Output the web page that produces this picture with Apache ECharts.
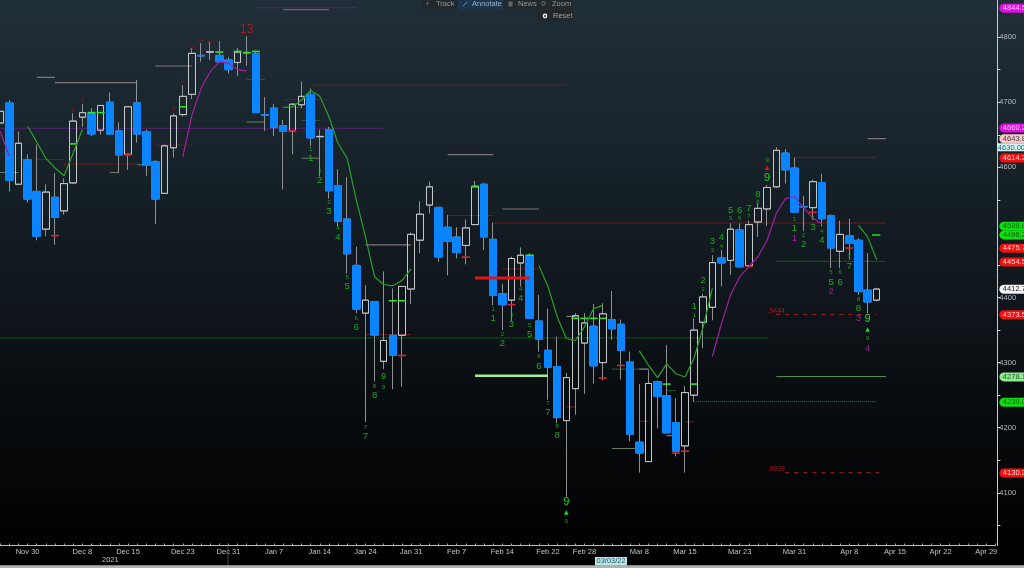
<!DOCTYPE html>
<html>
<head>
<meta charset="utf-8">
<style>html,body{margin:0;padding:0;background:#000;overflow:hidden}#c{width:1024px;height:568px}</style>
<script src="https://cdn.jsdelivr.net/npm/echarts@6/dist/echarts.min.js"></script>
</head>
<body>
<div id="c"></div>
<script>
const categories = ['Nov 24','Nov 26','Nov 29','Nov 30','Dec 1','Dec 2','Dec 3','Dec 6','Dec 7','Dec 8','Dec 9','Dec 10','Dec 13','Dec 14','Dec 15','Dec 16','Dec 17','Dec 20','Dec 21','Dec 22','Dec 23','Dec 27','Dec 28','Dec 29','Dec 30','Dec 31','Jan 3','Jan 4','Jan 5','Jan 6','Jan 7','Jan 10','Jan 11','Jan 12','Jan 13','Jan 14','Jan 18','Jan 19','Jan 20','Jan 21','Jan 24','Jan 25','Jan 26','Jan 27','Jan 28','Jan 31','Feb 1','Feb 2','Feb 3','Feb 4','Feb 7','Feb 8','Feb 9','Feb 10','Feb 11','Feb 14','Feb 15','Feb 16','Feb 17','Feb 18','Feb 22','Feb 23','Feb 24','Feb 25','Feb 28','Mar 1','Mar 2','Mar 3','Mar 4','Mar 7','Mar 8','Mar 9','Mar 10','Mar 11','Mar 14','Mar 15','Mar 16','Mar 17','Mar 18','Mar 21','Mar 22','Mar 23','Mar 24','Mar 25','Mar 28','Mar 29','Mar 30','Mar 31','Apr 1','Apr 4','Apr 5','Apr 6','Apr 7','Apr 8','Apr 11','Apr 12','Apr 13','Apr 14','Apr 15','Apr 18','Apr 19','Apr 20','Apr 21','Apr 22','Apr 25','Apr 26','Apr 27','Apr 28','Apr 29','May 2'];
const tickLabels = ['Nov 30','Dec 8','Dec 15','Dec 23','Dec 31','Jan 7','Jan 14','Jan 24','Jan 31','Feb 7','Feb 14','Feb 22','Feb 28','Mar 8','Mar 15','Mar 23','Mar 31','Apr 8','Apr 15','Apr 22','Apr 29'];
const yMajorTicks = [4100,4200,4300,4400,4600,4700,4800];
const yAllTicks = [4050,4100,4150,4200,4250,4300,4350,4400,4450,4550,4600,4650,4700,4750,4800];

const opens  = [4668,4699,4574,4612,4563,4505,4554,4533,4576,4677,4683,4657,4700,4656,4620,4699,4655,4609,4560,4630,4681,4712,4772,4777,4772,4765,4761,4776,4775,4681,4691,4664,4656,4696,4712,4647,4658,4572,4520.6,4449.4,4376,4394,4302,4342,4342,4413,4488,4542,4538.5,4508,4493,4480,4512,4574,4489.4,4406,4396,4453,4464,4364,4319,4294,4211,4260,4330,4356,4300,4366,4359,4301,4178,4148,4271,4249.3,4208,4172,4250,4362,4385,4461,4457,4504,4449,4516,4536,4570,4622,4599,4540,4538,4576.4,4526,4471,4495,4488,4411.6,4396];
const closes = [4686,4580,4637,4551,4494,4562,4523,4575,4671,4684,4651,4695,4651,4619,4693,4651,4603,4551,4633,4679,4709,4775,4771,4777.5,4762,4750,4777,4776.5,4684,4680,4661,4655,4697,4709,4645,4647.5,4564,4517,4467,4382,4396,4342,4334,4311,4417,4497,4528,4570,4462,4486,4469,4507,4571,4493,4403,4389,4460,4465,4368,4336,4293,4215.5,4277,4372,4361,4295,4375,4352,4319,4190,4161,4268,4248,4192,4164,4254,4350,4401,4453.6,4453,4505,4447,4512,4537,4569,4626,4596,4531,4539,4578,4521,4476,4497,4483,4409,4393,4413];
const lows   = [4660,4563,4574,4546,4488,4494,4481,4527,4575,4662,4648,4650,4651,4591,4596,4638,4587,4513,4560,4615,4678,4705,4762,4765,4762,4744,4740,4756,4684,4656,4648,4566,4620,4691,4633,4586,4552,4509,4437,4376,4209,4271,4290,4259,4263,4390,4468,4529,4455,4434,4460,4451,4512,4473,4388,4350,4363,4417,4368,4317,4243,4207,4094,4220,4252,4268,4273,4335,4274,4179,4131,4148,4199,4192,4156,4131,4240,4322,4365,4417,4435,4447,4449,4493,4510,4568,4575,4531,4502,4519,4509,4445,4445,4458,4404,4376,4394];
const highs  = [4690,4703,4655,4620,4635,4574,4591,4583,4683,4697,4691,4695,4715,4669,4694,4734,4658,4611,4635,4683,4726,4783,4791,4793,4794,4769,4783,4801,4779,4708,4697,4673,4698,4732,4721,4658,4662,4597,4585,4478,4419,4394,4440,4414,4418,4500,4548,4578,4538.5,4527,4508,4520,4579,4576,4515,4421,4463,4477,4468,4404,4383,4340,4284,4376,4376,4390,4391,4410,4366,4317,4267,4289,4273,4327,4245,4264,4368,4406,4465,4473,4514,4514,4518,4545,4573,4631,4628,4615,4556,4581,4590,4528,4518,4521,4491,4468,4415];

const purpleLine1 = [[-1,4655],[0,4617]];
const purpleLine2 = [[19,4616],[20,4680],[21,4721],[22,4747],[23,4762],[24,4760],[25,4750],[26,4748]];
const purpleLine3 = [[77,4309],[78,4360],[79,4404],[80,4432],[81,4447],[82,4463],[83,4488],[84,4529],[85,4552],[86,4555],[87,4538],[88,4522],[89,4513]];
const greenLine1 = [[2,4663],[3,4639],[4,4614],[5,4599],[6,4587],[7,4622],[8,4658]];
const greenLine2 = [[30,4692],[31,4693],[32,4703],[33,4718],[34,4709],[35,4678],[36,4637],[37,4614],[38,4550],[39,4493.5],[40,4432],[41,4420],[42,4418],[43,4426],[44,4444]];
const greenLine3 = [[58,4449],[59,4417],[60,4371],[61,4337],[62,4334],[63,4355],[64,4383],[65,4388]];
const greenLine4 = [[69,4318],[70,4296],[71,4277],[72,4298],[73,4283],[74,4278],[75,4307],[76,4355],[77,4414]];
const greenLine5 = [[93,4511],[94,4493.5],[95,4458]];

// level segments: [from index, to index, price]
const greySegs = [[3,5,4738],[5,14,4730],[16,20,4755.6],[30,35,4842],[48,53,4619.4],[54,58,4536],[39,44,4481],[61,62,4371],[69,70,4290],[94,96,4644],[72,73,4188]];
const greyGreenSegs = [[-1,1,4592],[11,12,4592],[14,15,4604],[26,28,4669.6],[32,34,4614],[66,69,4168]];
const dimGreenSegs = [[26,28,4735],[32,34,4672],[30,32,4692],[66,70,4290],[72,73,4257]];
const dimRedSegs = [[3,6,4612],[6,14,4605],[16,20,4634],[30,35,4704],[33,61,4726],[48,53,4526],[53,96,4514.5],[54,58,4444],[39,44,4343],[61,62,4232],[69,70,4210],[74,75,4209],[86,95,4615.3]];
const dimPurpleSegs = [[-1,41,4660]];
const magentaDimSegs = [[27,38,4845]];
const dashedRedSegs = [[84,95,4374],[85,95.3,4131]];
const dottedGreenSegs = [[-1,83,4338],[84,96,4455.6],[75,95,4240]];
const thinGreenSegs = [[84,96,4278.5]];
const brightGreenSegs = [[94.5,95.4,4496]];
const thickRedSegs = [[51,57,4430]];
const thickPaleGreenSegs = [[51,59,4280]];

const greenTicks = [[9,4684],[10,4684],[7,4636],[19,4693],[23,4777],[25,4778],[26,4776],[27,4778],[51,4570],[57,4465],[42,4395],[43,4395],[62,4368],[63,4368],[64,4368],[65,4368],[72,4267],[75,4267]];
const redTicks = [[5,4495],[13,4619],[31,4656],[50,4462],[55,4389],[43,4311],[67,4295.6],[65,4276.4],[73,4161],[74,4164],[81,4448],[88,4531],[92,4476]];

// TD counts: [index, price, text]
const smallGreenCounts = [[33,4628,'1'],[34,4594,'2'],[35,4546,'3'],[36,4506,'4'],[37,4430.5,'5'],[38,4368,'6'],[39,4201,'7'],[40,4264,'8'],[41,4262,'9'],[53,4382,'1'],[54,4344,'2'],[55,4373,'3'],[56,4413,'4'],[57,4357,'5'],[58,4309,'6'],[59,4237.5,'7'],[60,4202,'8'],[61,4056,'9'],[75,4373,'1'],[76,4413,'2'],[77,4473,'3'],[78,4479,'4'],[79,4522,'5'],[80,4521,'6'],[81,4524,'7'],[82,4546,'8'],[83,4611,'9'],[86,4520,'1'],[87,4495,'2'],[88,4522,'3'],[89,4502,'4'],[90,4438,'5'],[91,4438,'6'],[92,4463,'7'],[93,4397,'8'],[94,4337,'9']];
const bigGreenCounts = [[33,4614,'1'],[34,4580,'2'],[35,4533,'3'],[36,4492,'4'],[37,4417,'5'],[38,4354,'6'],[39,4186,'7'],[40,4250,'8'],[41,4279,'9'],[53,4368,'1'],[54,4330,'2'],[55,4359,'3'],[56,4398,'4'],[57,4343,'5'],[58,4295,'6'],[59,4223,'7'],[60,4188,'8'],[75,4387,'1'],[76,4426,'2'],[77,4486,'3'],[78,4492.5,'4'],[79,4534.5,'5'],[80,4533.4,'6'],[81,4537,'7'],[82,4559,'8'],[86,4506,'1'],[87,4481,'2'],[88,4508,'3'],[89,4488,'4'],[90,4424,'5'],[91,4424,'6'],[92,4448,'7'],[93,4383,'8']];
const brightNines = [[61,4085.5,'9'],[83,4583,'9'],[94,4366.5,'9']];
const purpleCounts = [[86,4491,'1'],[90,4409,'2'],[93,4368,'3'],[94,4322,'4']];
const redCounts = [[6,4602,'7'],[7,4688,'8'],[8,4703,'9'],[18,4689,'8'],[19,4731.6,'9'],[20,4783,'10'],[21,4796.6,'11'],[22,4794,'12']];
const bigRedCounts = [[26,4811,'13']];
const greenArrows = [[61,4069.6],[94,4351]];
const redArrows = [[83,4599.5]];
const fibLabels = [[84,4379,'.9444'],[84,4136,'.9939']];

const priceTags = ['4844.5','4660.2','4643.8','4630.00','4614.2','4509.6','4496.2','4475.7','4454.5','4412.7','4373.5','4278.1','4239.0','4130.3'];
const priceTagFills = ['#e010e0','#e010e0','#f4c6c6','#d4f4f2','#f01010','#10dd10','#10dd10','#f01010','#f01010','#f4f4f4','#f01010','#90e890','#10dd10','#f01010'];
const priceTagText = ['#f8c0f8','#f8c0f8','#444444','#1d6a70','#ffd0d0','#0a5a0a','#0a5a0a','#ffd0d0','#ffd0d0','#222222','#ffd0d0','#2a5a2a','#0a5a0a','#ffd0d0'];

const FONT = '"Liberation Sans", Arial, sans-serif';
const offset = 1; // categories start one step left of index 0
const ohlc = opens.map((o,i)=>[o,closes[i],lows[i],highs[i]]);
const blank = ['-','-','-','-'];
const blueBodies = opens.map((o,i)=> closes[i]<o ? [o,closes[i],closes[i],o] : blank);
const hollowBodies = opens.map((o,i)=> closes[i]>=o ? [o,closes[i],o,closes[i]] : blank);

function polyline(data,color,width){
  return {type:'line',xAxisIndex:1,data,symbol:'none',smooth:false,silent:true,z:6,
    lineStyle:{color,width},animation:false};
}
function segments(data,color,width,dash,z){
  return {type:'custom',xAxisIndex:1,data,z:z||1,silent:true,clip:true,encode:{x:[0,1],y:2},
    renderItem:(p,api)=>{
      const a=api.coord([api.value(0),api.value(2)]), b=api.coord([api.value(1),api.value(2)]);
      return {type:'line',shape:{x1:a[0],y1:a[1],x2:b[0],y2:b[1]},
        style:{stroke:color,lineWidth:width,lineDash:dash||null}};
    }};
}
function counts(data,color,size){
  return {type:'custom',xAxisIndex:1,data,z:7,silent:true,clip:false,encode:{x:0,y:1},
    renderItem:(p,api)=>{
      const a=api.coord([api.value(0),api.value(1)]);
      return {type:'text',style:{text:String(data[p.dataIndex][2]),x:a[0],y:a[1],fill:color,
        font:size+'px '+FONT,textAlign:'center',textVerticalAlign:'middle'}};
    }};
}
function ticks(data,color){
  return {type:'scatter',xAxisIndex:1,data,symbol:'rect',symbolSize:[8,1.6],z:5,silent:true,
    itemStyle:{color,opacity:1}};
}
function arrows(data,color){
  return {type:'scatter',xAxisIndex:1,data,symbol:'triangle',symbolSize:[4.5,4.5],z:7,silent:true,
    itemStyle:{color,opacity:1}};
}
const tagSeries = {type:'custom',xAxisIndex:1,data:priceTags.map((t,i)=>[108,parseFloat(t)]),z:9,silent:true,clip:false,
  encode:{x:0,y:1},
  renderItem:(p,api)=>{
    const i=p.dataIndex, a=api.coord([api.value(0),api.value(1)]);
    const plain=priceTags[i].length>6;
    return {type:'group',children:[
      {type:'rect',shape:{x:a[0]+(plain?2:4),y:a[1]-4.5,width:40,height:plain?8:9,r:plain?0:[4.5,0,0,4.5]},
        style:{fill:priceTagFills[i]}},
      {type:'text',style:{text:priceTags[i],x:a[0]+(plain?2.5:7.5),y:a[1],fill:priceTagText[i],
        font:'7.5px '+FONT,textVerticalAlign:'middle'}}
    ]};
  }};

function toolbarText(t,x,y,fill){return {type:'text',style:{text:t,x,y,fill:fill||'#9aa4a8',font:'7.5px '+FONT,textVerticalAlign:'middle'},z:20};}
function toolbarRect(x,y,w,h,fill){return {type:'rect',shape:{x,y,width:w,height:h},style:{fill},z:19};}

const chart = echarts.init(document.getElementById('c'),null,{renderer:'canvas',width:1024,height:568});
chart.setOption({
  animation:false,
  backgroundColor:{type:'linear',x:0,y:0,x2:0,y2:1,colorStops:[
    {offset:0,color:'#202e38'},{offset:0.2,color:'#1a262e'},{offset:0.5,color:'#10171d'},{offset:0.75,color:'#070a0d'},{offset:0.96,color:'#000000'},{offset:1,color:'#000000'}]},
  grid:{left:0.2,top:0,width:995.17,height:545.5,containLabel:false,outerBoundsMode:'none'},
  xAxis:[
    {type:'category',data:categories,boundaryGap:false,
     axisLine:{lineStyle:{color:'#b8b8b8',width:1}},
     axisTick:{show:true,interval:0,inside:true,length:2,alignWithLabel:true,lineStyle:{color:'#a8a8a8'}},
     axisLabel:{interval:0,margin:2,color:'#c4c4c4',fontSize:7.5,fontFamily:FONT,hideOverlap:false,
       formatter:v=>tickLabels.includes(v)?v:''},
     splitLine:{show:false}},
    {type:'value',min:-offset,max:108,show:false,splitLine:{show:false}}
  ],
  yAxis:{type:'value',position:'right',offset:2,min:4019.1,max:4857,
    axisLine:{show:true,onZero:false,lineStyle:{color:'#c8ccd0',width:1}},
    axisTick:{show:true,length:3,customValues:yAllTicks,lineStyle:{color:'#d8d8d8',width:1}},
    axisLabel:{show:true,margin:2,color:'#b8bcc0',fontSize:7.5,fontFamily:FONT,customValues:yMajorTicks,
       formatter:v=>String(v)},
    splitLine:{show:false}},
  series:[
    segments(dimRedSegs,'#6a1c20',1),
    segments(dimPurpleSegs,'#5c1f78',1),
    segments(magentaDimSegs,'#5c1f78',1),
    segments(dimGreenSegs,'#245f2a',1),
    segments(greyGreenSegs,'#6e7f6a',1),
    segments(dottedGreenSegs,'#1f8a2a',1,[1,1]),
    segments(thinGreenSegs,'#5a9a50',1),
    segments(greySegs,'#7f7478',1.2),
    {type:'candlestick',data:ohlc,barWidth:7,z:3,silent:true,
      itemStyle:{color:'transparent',color0:'transparent',borderColor:'#8f9193',borderColor0:'#8f9193',borderWidth:1}},
    {type:'candlestick',data:hollowBodies,barWidth:7,z:4,silent:true,
      itemStyle:{color:'transparent',color0:'transparent',borderColor:'#c6c8ca',borderColor0:'#c6c8ca',borderWidth:1}},
    {type:'candlestick',data:blueBodies,barWidth:8,z:4,silent:true,
      itemStyle:{color:'#0a84ff',color0:'#0a84ff',borderColor:'#0a84ff',borderColor0:'#0a84ff',borderWidth:1}},
    ticks(greenTicks,'#35e035'),
    ticks(redTicks,'#d8242a'),
    polyline(purpleLine1,'#a1209e',1.2),polyline(purpleLine2,'#a1209e',1.2),polyline(purpleLine3,'#a1209e',1.2),
    polyline(greenLine1,'#2aa02a',1.2),polyline(greenLine2,'#2aa02a',1.2),polyline(greenLine3,'#2aa02a',1.2),polyline(greenLine4,'#2aa02a',1.2),polyline(greenLine5,'#2aa02a',1.2),
    segments(dashedRedSegs,'#a51c20',1,[4,5],6),
    segments(brightGreenSegs,'#20e020',1.6,null,6),
    segments(thickRedSegs,'#e01418',3,null,6),
    segments(thickPaleGreenSegs,'#a4ec94',2.5,null,6),
    counts(smallGreenCounts,'#1aa01a',6),
    counts(bigGreenCounts,'#1fa81f',9.5),
    counts(brightNines,'#16e016',11),
    counts(purpleCounts,'#a01ea0',9.5),
    counts(redCounts,'#7a1c1c',6),
    counts(bigRedCounts,'#a81c20',12),
    counts(fibLabels,'#a81c20',7),
    arrows(greenArrows,'#19e019'),
    arrows(redArrows,'#e01818'),
    tagSeries
  ],
  graphic:{elements:[
    toolbarRect(421,0,152,9.5,'#22292d'),
    toolbarRect(458,0,45,9.5,'#1c3550'),
    toolbarRect(537,10,36,12,'#22272a'),
    {type:'circle',shape:{cx:545,cy:16,r:2.4},style:{fill:'#dfe4e8'},z:20},
    {type:'circle',shape:{cx:545,cy:16,r:0.9},style:{fill:'#22272a'},z:21},
    toolbarText('+',425.5,3.5,'#6e787c'),
    {type:'line',shape:{x1:463,y1:6,x2:467,y2:2},style:{stroke:'#6a8aa8',lineWidth:1},z:20},
    {type:'rect',shape:{x:508.5,y:1.5,width:4,height:5},style:{fill:'#5e686c'},z:20},
    {type:'circle',shape:{cx:543.5,cy:3.5,r:1.8},style:{fill:'none',stroke:'#6e787c',lineWidth:1},z:20},
    toolbarText('Track',436,4,'#8e989c'),
    toolbarText('Annotate',472,4,'#9db4c8'),
    toolbarText('News',518,4,'#8e989c'),
    toolbarText('Zoom',552,4,'#8e989c'),
    toolbarText('Reset',553,16,'#9aa0a4'),
    toolbarText('2021',102,560,'#c4c4c4'),
    {type:'rect',shape:{x:227.6,y:546,width:0.8,height:20},style:{fill:'#55585a'},z:18},
    {type:'rect',shape:{x:0,y:565.3,width:1024,height:3},style:{fill:'#b0b0b0'},z:18},
    {type:'rect',shape:{x:595,y:557,width:32,height:8.5},style:{fill:'#b8e6e6'},z:19},
    toolbarText('03/03/22',596.5,561.3,'#30586e')
  ]}
});
</script>
</body>
</html>
